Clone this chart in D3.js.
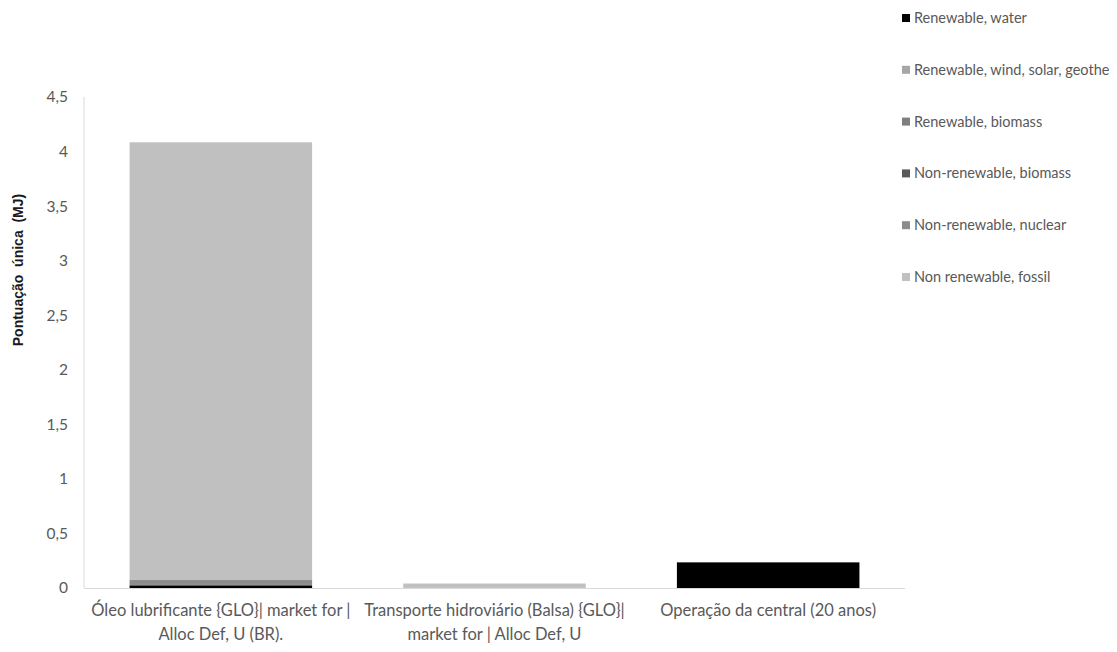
<!DOCTYPE html>
<html>
<head>
<meta charset="utf-8">
<script src="https://cdn.jsdelivr.net/npm/d3@7"></script>
<style>
  body { margin: 0; background: #fff; }
  svg { display: block; }
  text { font-family: Lato, "Open Sans", sans-serif; }
</style>
</head>
<body>
<svg id="chart" width="1117" height="652"></svg>
<script>
// Data
// ----------------------------------------
const categories = [
    ["Óleo lubrificante {GLO}| market for |", "Alloc Def, U (BR)."],
    ["Transporte hidroviário (Balsa) {GLO}|", "market for | Alloc Def, U"],
    ["Operação da central (20 anos)"]
];
// legend text as it appears (the wind/solar one is cut short in the source)
const seriesNames = [
    "Renewable, water",
    "Renewable, wind, solar, geothe",
    "Renewable, biomass",
    "Non-renewable, biomass",
    "Non-renewable, nuclear",
    "Non renewable, fossil"
];
const seriesColors = ["#000000", "#a6a6a6", "#7f7f7f", "#595959", "#8c8c8c", "#c0c0c0"];
// one array per series, one value per category (MJ)
const water      = [0.025, 0,     0.235];
const windSolar  = [0.004, 0,     0];
const renBiomass = [0.008, 0,     0];
const nonBiomass = [0.006, 0,     0];
const nuclear    = [0.030, 0.001, 0];
const fossil     = [4.012, 0.040, 0];
const yTicks = [0, 0.5, 1, 1.5, 2, 2.5, 3, 3.5, 4, 4.5];

const seriesValues = [water, windSolar, renBiomass, nonBiomass, nuclear, fossil];

// Layout
// ----------------------------------------
const margin = {top: 97, left: 84},
      plotWidth = 821,
      plotHeight = 491;

const svg = d3.select("#chart");
const g = svg.append("g")
    .attr("transform", `translate(${margin.left},${margin.top})`);

const x = d3.scaleBand()
    .domain(d3.range(categories.length))
    .range([0, plotWidth])
    .paddingInner(0.333)
    .paddingOuter(0.1665);
const y = d3.scaleLinear()
    .domain([0, 4.5])
    .range([plotHeight, 0]);

// stacked table: rows = categories
const table = categories.map((c, i) => {
    const row = {idx: i};
    seriesNames.forEach((s, j) => row[s] = seriesValues[j][i]);
    return row;
});
const stack = d3.stack().keys(seriesNames)(table);

// Axes lines
g.append("line")
    .attr("x1", 0).attr("x2", 0)
    .attr("y1", 0).attr("y2", plotHeight)
    .attr("stroke", "#d9d9d9");

// Bars
g.selectAll("g.layer")
    .data(stack)
    .join("g")
    .attr("class", "layer")
    .attr("fill", (d, i) => seriesColors[i])
    .selectAll("rect")
    .data(d => d)
    .join("rect")
    .attr("x", d => x(d.data.idx))
    .attr("width", x.bandwidth())
    .attr("y", d => y(d[1]))
    .attr("height", d => y(d[0]) - y(d[1]));

g.append("line")
    .attr("x1", 0).attr("x2", plotWidth)
    .attr("y1", plotHeight + 0.5).attr("y2", plotHeight + 0.5)
    .attr("stroke", "#d9d9d9");

// Y tick labels
g.selectAll("text.ytick")
    .data(yTicks)
    .join("text")
    .attr("class", "ytick")
    .attr("x", -16)
    .attr("y", d => y(d))
    .attr("dy", "0.35em")
    .attr("text-anchor", "end")
    .attr("fill", "#595959")
    .style("font-size", "15.5px")
    .text(d => String(d).replace(".", ","));

// Category labels
const cat = g.selectAll("text.xcat")
    .data(categories)
    .join("text")
    .attr("class", "xcat")
    .attr("text-anchor", "middle")
    .attr("fill", "#595959")
    .style("font-size", "16.5px")
    .attr("transform", (d, i) => `translate(${x(i) + x.bandwidth() / 2},${plotHeight + 28})`);
cat.selectAll("tspan")
    .data(d => d)
    .join("tspan")
    .attr("x", 0)
    .attr("dy", (d, i) => i === 0 ? 0 : 24)
    .text(d => d);

// Y axis title
svg.append("text")
    .attr("transform", `translate(23,270) rotate(-90)`)
    .attr("text-anchor", "middle")
    .attr("fill", "#1a1a1a")
    .style("font-family", "'Liberation Sans', Arial, sans-serif")
    .style("font-weight", "bold")
    .style("font-size", "14px")
    .style("white-space", "pre")
    .text("Pontuação  única  (MJ)");

// Legend (top of list = first series)
const legend = svg.append("g")
    .attr("transform", "translate(902,18)");
const item = legend.selectAll("g")
    .data(seriesNames)
    .join("g")
    .attr("transform", (d, i) => `translate(0,${i * 51.8})`);
item.append("rect")
    .attr("x", 0).attr("y", -4)
    .attr("width", 8).attr("height", 8)
    .attr("fill", (d, i) => seriesColors[i]);
item.append("text")
    .attr("x", 12)
    .attr("dy", "0.35em")
    .attr("fill", "#595959")
    .style("font-size", "14.5px")
    .text(d => d);
</script>
</body>
</html>
